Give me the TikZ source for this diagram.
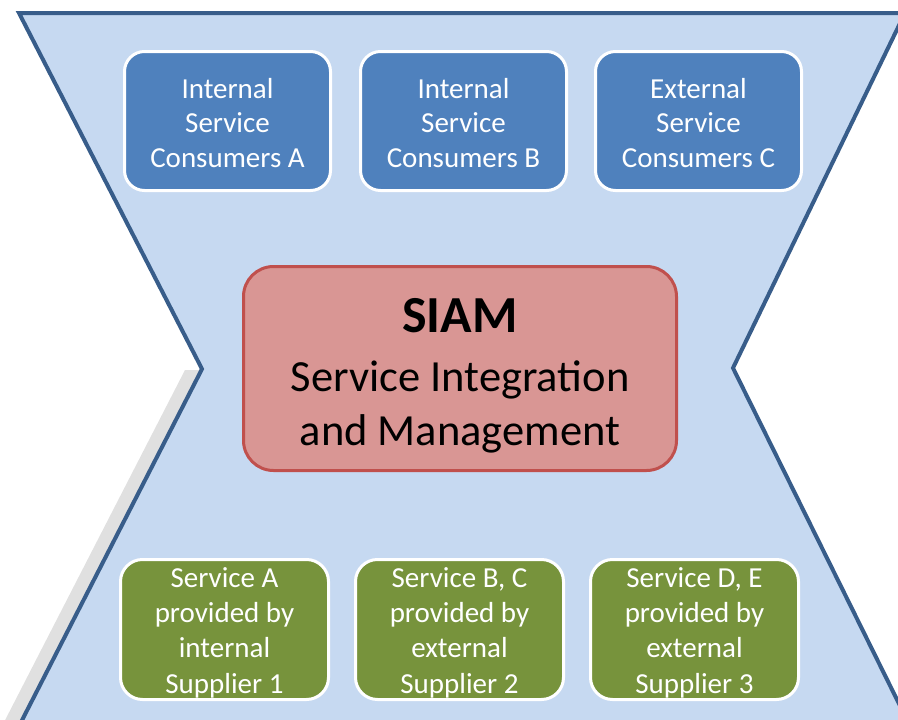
\documentclass[tikz,border=0pt]{standalone}
\usepackage{fontspec}
\setmainfont{Carlito}
\definecolor{bgfill}{HTML}{C6D9F1}
\definecolor{bgline}{HTML}{385D8A}
\definecolor{topfill}{HTML}{4F81BD}
\definecolor{midfill}{HTML}{D99694}
\definecolor{midline}{HTML}{C0504D}
\definecolor{botfill}{HTML}{77933C}
\definecolor{shadowgray}{HTML}{E0E0E0}
\tikzset{
  consumer/.style={rectangle, rounded corners=20pt, fill=topfill, draw=white, line width=3pt,
    minimum width=206pt, minimum height=139pt, inner sep=0pt, text=white, align=center,
    font=\fontsize{29}{34.5}\selectfont},
  supplier/.style={rectangle, rounded corners=22pt, fill=botfill, draw=white, line width=3pt,
    minimum width=208pt, minimum height=140pt, inner sep=0pt, text=white, align=center,
    font=\fontsize{29}{35.3}\selectfont},
  siambox/.style={rectangle, rounded corners=30pt, fill=midfill, draw=midline, line width=3pt,
    minimum width=433pt, minimum height=204pt, inner sep=0pt},
  siamtext/.style={inner sep=0pt, text=black}
}
\begin{document}
\begin{tikzpicture}[x=1pt,y=-1pt]
\useasboundingbox (0,0) rectangle (898,720);
\clip (0,0) rectangle (898,720);
% shadow on lower-left edge
\fill[shadowgray] (185,370) -- (202,370) -- (17,730) -- (0,730) -- cycle;
% hourglass background
\draw[fill=bgfill, draw=bgline, line width=4pt, line join=miter]
  (19,13) -- (905,13) -- (733,368) -- (912,730) -- (17,730) -- (202,369) -- cycle;
% consumers
\node[consumer] (ca) at (227.5,121) {};
\node[consumer] (cb) at (463.5,121) {};
\node[consumer] (cc) at (698.5,121) {};
\node[consumer, draw=none, fill=none] (cat) at (227.5,123) {Internal\\Service\\Consumers A};
\node[consumer, draw=none, fill=none] (cbt) at (463.5,123) {Internal\\Service\\Consumers B};
\node[consumer, draw=none, fill=none] (cct) at (698.5,123) {External\\Service\\Consumers C};
% SIAM
\node[siambox] (siam) at (460,368.5) {};
\node[siamtext, font=\fontsize{52}{60}\selectfont\bfseries] (siamt) at (460,316) {SIAM};
\node[siamtext, font=\fontsize{44.5}{52}\selectfont] (siam1) at (460,380) {Service Integration};
\node[siamtext, font=\fontsize{44.5}{52}\selectfont] (siam2) at (460,434) {and Management};
% suppliers
\node[supplier] (s1) at (224.5,629.5) {};
\node[supplier] (s2) at (459.5,629.5) {};
\node[supplier] (s3) at (694.5,629.5) {};
\node[supplier, draw=none, fill=none] (s1t) at (224.5,632.5) {Service A\\provided by\\internal\\Supplier 1};
\node[supplier, draw=none, fill=none] (s2t) at (459.5,632.5) {Service B, C\\provided by\\external\\Supplier 2};
\node[supplier, draw=none, fill=none] (s3t) at (694.5,632.5) {Service D, E\\provided by\\external\\Supplier 3};
\end{tikzpicture}
\end{document}
